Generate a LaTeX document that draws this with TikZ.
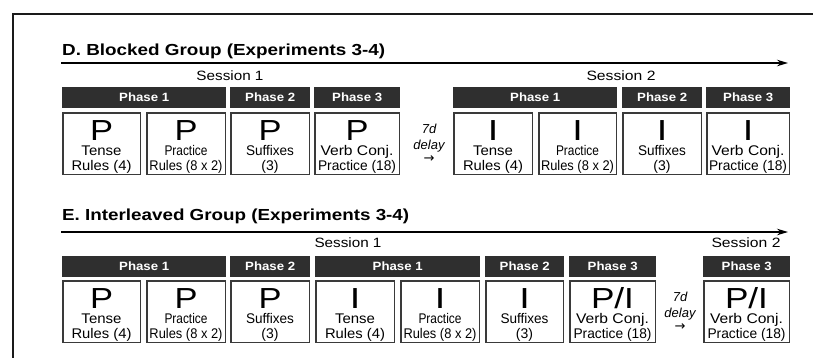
\documentclass[tikz,border=0pt]{standalone}
\usepackage{graphicx}
\usepackage{fontspec}
\setmainfont{Liberation Sans}
\newfontfamily\arrowfont{DejaVu Sans}
\usetikzlibrary{arrows.meta}

\definecolor{barfill}{HTML}{2F2F2F}
\definecolor{boxline}{HTML}{3A3A3A}
\definecolor{framecol}{HTML}{1A1A1A}

% set a text line to a given width, keeping its height
\newcommand\fitw[2]{\resizebox{#1pt}{\height}{#2}}

\tikzset{
  x=1pt, y=-1pt,
  outerframe/.style={draw=framecol, line width=2pt, line join=miter},
  timeline/.style={draw=black, line width=1.4pt, -{Stealth[length=11pt,width=6.5pt]}},
  grouptitle/.style={anchor=base west, inner sep=0pt,
    font=\bfseries\fontsize{16}{18}\selectfont},
  sessionlabel/.style={inner sep=0pt, font=\fontsize{13.5}{15}\selectfont},
  phasebar/.style={fill=barfill, draw=none, anchor=north west, inner sep=0pt,
    minimum height=21pt, text=white, font=\bfseries\fontsize{12}{13}\selectfont},
  trialbox/.style={draw=boxline, line width=1.5pt, anchor=north west,
    inner sep=0pt, minimum height=61.5pt},
  bigletter/.style={inner sep=0pt, anchor=base, font=\fontsize{29}{30}\selectfont},
  subtext/.style={inner sep=0pt, anchor=base, font=\fontsize{14}{15}\selectfont},
  delaytext/.style={inner sep=0pt, anchor=base, font=\itshape\fontsize{13}{14}\selectfont},
}

% phase header: name, left x, top y, width, text
\newcommand\phasehead[5]{%
  \node[phasebar, minimum width=#4pt] (#1) at (#2,#3) {\fitw{50}{#5}};}
% trial box: name, left x, top y, width, condition letter, two text lines
\newcommand\trialcell[7]{%
  \node[trialbox, minimum width={#4pt-1.5pt}] (#1) at (#2,#3) {};
  \node[bigletter] (#1-cond) at ([yshift=-28pt]#1.north) {#5};
  \node[subtext] (#1-top) at ([yshift=-43pt]#1.north) {#6};
  \node[subtext] (#1-bot) at ([yshift=-58pt]#1.north) {#7};}
% delay marker between sessions: name, centre x, box top y
\newcommand\delaymark[3]{%
  \node[delaytext] (#1-a) at (#2,#3+21) {7d};
  \node[delaytext] (#1-b) at (#2,#3+37.5) {delay};
  \node[inner sep=0pt, font=\arrowfont\fontsize{13}{14}\selectfont] (#1-c) at (#2,#3+47.5) {→};}

% condition letters
\newcommand\condP{\fitw{23}{P}}
\newcommand\condI{\fitw{10.5}{I}}
\newcommand\condPI{\fitw{43}{P/I}}
% the recurring text lines
\newcommand\tenseA{\fitw{40}{Tense}}
\newcommand\tenseB{\fitw{60}{Rules (4)}}
\newcommand\pracA{\fitw{43}{Practice}}
\newcommand\pracB{\fitw{73}{Rules (8 x 2)}}
\newcommand\suffA{\fitw{48}{Suffixes}}
\newcommand\suffB{(3)}
\newcommand\verbA{\fitw{73}{Verb Conj.}}
\newcommand\verbB{\fitw{78}{Practice (18)}}

\begin{document}
\begin{tikzpicture}
\useasboundingbox (0,0) rectangle (813,357);
\fill[white] (0,0) rectangle (813,357);

% outer frame (only its top and left sides fall inside the page)
\draw[outerframe] (13,360) -- (13,14) -- (816,14);

% ---------------- D. Blocked group ----------------
\node[grouptitle] (titleD) at (62,55) {\fitw{323}{D. Blocked Group (Experiments 3-4)}};
\coordinate (tlD0) at (61,63);
\coordinate (tlD1) at (788,63);
\draw[timeline] (tlD0) -- (tlD1);

\node[sessionlabel] (sessD1) at (230,76) {\fitw{67}{Session 1}};
\node[sessionlabel] (sessD2) at (621,76) {\fitw{69}{Session 2}};

\phasehead{dA1}{62}{87}{164}{Phase 1}
\phasehead{dA2}{230}{87}{80}{Phase 2}
\phasehead{dA3}{314}{87}{86}{Phase 3}
\phasehead{dB1}{453}{87}{164}{Phase 1}
\phasehead{dB2}{622}{87}{80}{Phase 2}
\phasehead{dB3}{706}{87}{84}{Phase 3}

\trialcell{dx1}{62}{112}{79}{\condP}{\tenseA}{\tenseB}
\trialcell{dx2}{146}{112}{80}{\condP}{\pracA}{\pracB}
\trialcell{dx3}{230}{112}{80}{\condP}{\suffA}{\suffB}
\trialcell{dx4}{314}{112}{86}{\condP}{\verbA}{\verbB}
\delaymark{delayD}{429}{112}
\trialcell{dy1}{453}{112}{80}{\condI}{\tenseA}{\tenseB}
\trialcell{dy2}{538}{112}{79}{\condI}{\pracA}{\pracB}
\trialcell{dy3}{622}{112}{80}{\condI}{\suffA}{\suffB}
\trialcell{dy4}{706}{112}{84}{\condI}{\verbA}{\verbB}

% ---------------- E. Interleaved group ----------------
\node[grouptitle] (titleE) at (62,220.5) {\fitw{347}{E. Interleaved Group (Experiments 3-4)}};
\coordinate (tlE0) at (61,232);
\coordinate (tlE1) at (788,232);
\draw[timeline] (tlE0) -- (tlE1);

\node[sessionlabel] (sessE1) at (348,243) {\fitw{67}{Session 1}};
\node[sessionlabel] (sessE2) at (746,243) {\fitw{69}{Session 2}};

\phasehead{eA1}{62}{256}{164}{Phase 1}
\phasehead{eA2}{230}{256}{80}{Phase 2}
\phasehead{eA3}{315}{256}{165}{Phase 1}
\phasehead{eA4}{485}{256}{79}{Phase 2}
\phasehead{eA5}{569}{256}{87}{Phase 3}
\phasehead{eB1}{703}{256}{87}{Phase 3}

\trialcell{ex1}{62}{280}{79}{\condP}{\tenseA}{\tenseB}
\trialcell{ex2}{146}{280}{80}{\condP}{\pracA}{\pracB}
\trialcell{ex3}{230}{280}{80}{\condP}{\suffA}{\suffB}
\trialcell{ex4}{315}{280}{80}{\condI}{\tenseA}{\tenseB}
\trialcell{ex5}{400}{280}{80}{\condI}{\pracA}{\pracB}
\trialcell{ex6}{485}{280}{79}{\condI}{\suffA}{\suffB}
\trialcell{ex7}{569}{280}{87}{\condPI}{\verbA}{\verbB}
\delaymark{delayE}{680}{280}
\trialcell{ey1}{703}{280}{87}{\condPI}{\verbA}{\verbB}
\end{tikzpicture}
\end{document}
